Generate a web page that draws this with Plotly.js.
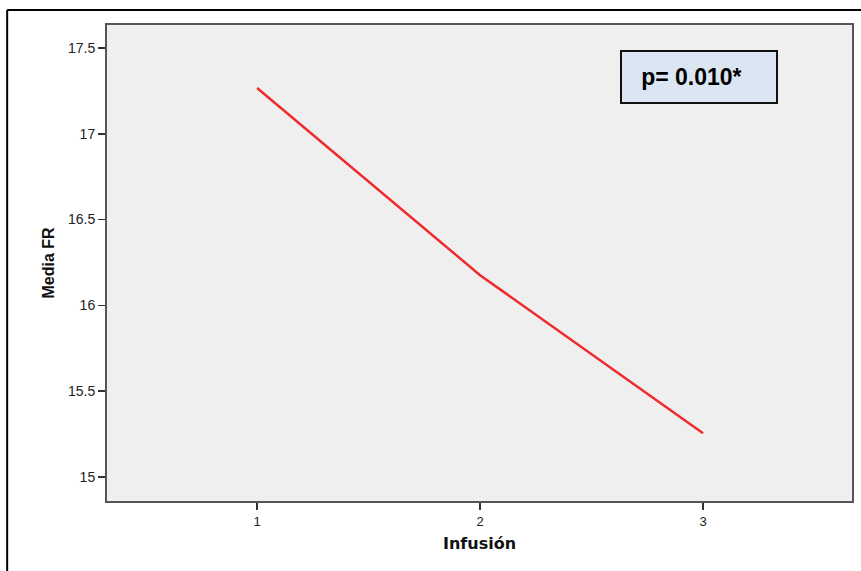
<!DOCTYPE html>
<html>
<head>
<meta charset="utf-8">
<script src="https://cdn.plot.ly/plotly-3.0.1.min.js"></script>
<style>
  html, body { margin: 0; padding: 0; background: #ffffff; }
  #chart { width: 861px; height: 571px; }
</style>
</head>
<body>
<div id="chart"></div>
<script>
// Data
const infusion = [1, 2, 3];
const mediaFR = [17.267, 16.176, 15.255];
const yTickVals = [15, 15.5, 16, 16.5, 17, 17.5];
const yTickText = ["15", "15.5", "16", "16.5", "17", "17.5"];
const xTickVals = [1, 2, 3];
const xTickText = ["1", "2", "3"];
const pLabel = "p= 0.010*";

const trace = {
  x: infusion,
  y: mediaFR,
  type: "scatter",
  mode: "lines",
  line: { color: "#ef2b2e", width: 2.5 },
  hoverinfo: "x+y",
  showlegend: false
};

const axisCommon = {
  showgrid: false,
  zeroline: false,
  showline: true,
  linecolor: "#555555",
  linewidth: 2,
  mirror: true,
  ticks: "outside",
  ticklen: 7,
  tickwidth: 1.5,
  tickcolor: "#333333",
  tickfont: { family: "Liberation Sans, Arial, sans-serif", size: 14, color: "#222222" }
};

const layout = {
  width: 861,
  height: 571,
  margin: { l: 107, r: 9, t: 25, b: 70 },
  paper_bgcolor: "#ffffff",
  plot_bgcolor: "#efefef",
  xaxis: Object.assign({}, axisCommon, {
    range: [0.327, 3.668],
    tickvals: xTickVals,
    ticktext: xTickText,
    tickfont: { family: "Liberation Sans, Arial, sans-serif", size: 13, color: "#222222" },
    title: { text: "Infusión", font: { family: "DejaVu Sans, sans-serif", size: 16, color: "#111111", weight: "bold" }, standoff: 10 }
  }),
  yaxis: Object.assign({}, axisCommon, {
    range: [14.86, 17.634],
    tickvals: yTickVals,
    ticktext: yTickText,
    title: { text: "Media FR", font: { family: "Liberation Sans, Arial, sans-serif", size: 16, color: "#111111", weight: "bold" }, standoff: 9 }
  }),
  annotations: [{
    xref: "paper", yref: "paper",
    x: 0.7946, y: 0.8908,
    xanchor: "center", yanchor: "middle",
    text: "<b>&nbsp;&nbsp;&nbsp;" + pLabel + "</b>",
    showarrow: false,
    font: { family: "Liberation Sans, Arial, sans-serif", size: 23, color: "#000000" },
    bgcolor: "#dce6f2",
    bordercolor: "#111111",
    borderwidth: 2,
    borderpad: 0,
    width: 154,
    height: 50,
    align: "left"
  }],
  shapes: [
    { type: "line", xref: "paper", yref: "paper", x0: -0.134, x1: 1.02, y0: 1.0315, y1: 1.0315, line: { color: "#000000", width: 2 } },
    { type: "line", xref: "paper", yref: "paper", x0: -0.134, x1: -0.134, y0: 1.0315, y1: -0.16, line: { color: "#000000", width: 2 } }
  ]
};

Plotly.newPlot("chart", [trace], layout, { displayModeBar: false, staticPlot: true });
</script>
</body>
</html>
